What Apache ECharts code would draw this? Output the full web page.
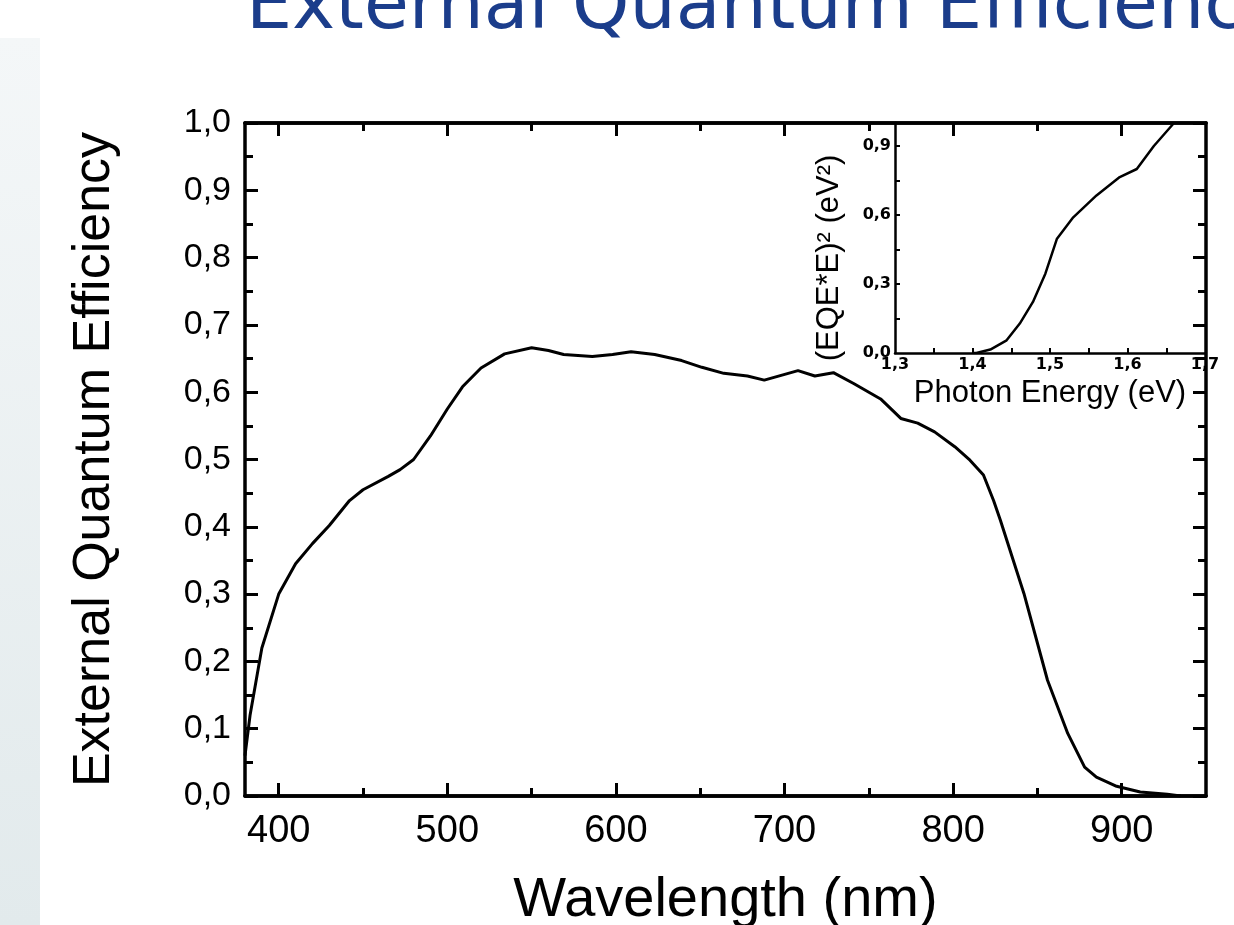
<!DOCTYPE html>
<html>
<head>
<meta charset="utf-8">
<style>
  html, body { margin: 0; padding: 0; background: #ffffff; }
  #chart { width: 1234px; height: 925px; }
</style>
<script src="https://cdn.jsdelivr.net/npm/echarts@6/dist/echarts.min.js"></script>
</head>
<body>
<div id="chart"></div>
<script>
// EQE spectrum of the cell
const wavelength = [380, 383, 390, 400, 410, 420, 430, 442, 450, 465, 472, 480, 490, 500, 509, 520, 534, 550, 560, 569, 586, 598, 609, 623, 639, 651, 664, 678, 688, 698, 708, 718, 729, 741, 757, 769, 779, 789, 801, 810, 818, 824, 828, 842, 856, 868, 878, 885, 897, 911, 927, 935];
const eqe = [0.06, 0.12, 0.22, 0.30, 0.345, 0.375, 0.402, 0.439, 0.455, 0.475, 0.485, 0.50, 0.535, 0.575, 0.608, 0.636, 0.657, 0.666, 0.662, 0.656, 0.653, 0.656, 0.660, 0.656, 0.647, 0.637, 0.628, 0.624, 0.618, 0.625, 0.632, 0.624, 0.629, 0.613, 0.590, 0.561, 0.554, 0.541, 0.519, 0.499, 0.477, 0.439, 0.410, 0.301, 0.172, 0.093, 0.043, 0.028, 0.0144, 0.006, 0.0025, 0.0];

// band-gap plot (inset)
const photonEnergy = [1.40, 1.405, 1.423, 1.444, 1.461, 1.478, 1.494, 1.509, 1.530, 1.560, 1.590, 1.612, 1.634, 1.660];
const eqeESq = [0.0, 0.0, 0.015, 0.055, 0.128, 0.222, 0.345, 0.497, 0.590, 0.685, 0.765, 0.800, 0.900, 1.000];

// tick positions
const wlMajorTicks = [400, 500, 600, 700, 800, 900];
const wlMinorTicks = [450, 550, 650, 750, 850];
const energyLabels = [1.3, 1.4, 1.5, 1.6, 1.7];
const energyTicks = [1.35, 1.4, 1.45, 1.5, 1.55, 1.6, 1.65];
const insetYLabels = [0, 0.3, 0.6, 0.9];
const insetYTicks = [0.15, 0.3, 0.45, 0.6, 0.75, 0.9];

const titleText = 'External Quantum Efficiency';
const yName = 'External Quantum Efficiency';
const xName = 'Wavelength (nm)';
const insetXName = 'Photon Energy (eV)';
const insetYName = '(EQE*E)\u00B2 (eV\u00B2)';

const comma = v => v.toFixed(1).replace('.', ',');
const FONT = 'Liberation Sans, Arial, sans-serif';
const BLACK = '#000000';

const mainAxisLine = { show: true, lineStyle: { color: BLACK, width: 3.5 } };
const insetAxisLine = { show: true, lineStyle: { color: BLACK, width: 2.5 } };

function wlAxis(position, ticks, len, extra) {
  return Object.assign({
    type: 'value', gridIndex: 0, position: position,
    min: 380, max: 950,
    axisLine: mainAxisLine,
    axisTick: { show: true, inside: true, length: len, customValues: ticks, lineStyle: { color: BLACK, width: 3 } },
    axisLabel: { show: false },
    splitLine: { show: false }
  }, extra || {});
}

const chart = echarts.init(document.getElementById('chart'), null, { renderer: 'canvas' });

chart.setOption({
  backgroundColor: '#ffffff',
  animation: false,
  graphic: [
    {
      type: 'rect', z: -10, silent: true,
      shape: { x: 0, y: 38, width: 40, height: 887 },
      style: {
        fill: new echarts.graphic.LinearGradient(0, 0, 0, 1, [
          { offset: 0, color: '#f4f7f8' },
          { offset: 1, color: '#e2eaec' }
        ])
      }
    },
    {
      type: 'text', z: 10, silent: true,
      style: {
        text: titleText, x: 246, y: 46,
        fill: '#1b3d8b', font: '73px "DejaVu Sans", Verdana, sans-serif',
        verticalAlign: 'bottom'
      }
    }
  ],
  grid: [
    { left: 245, top: 123, right: 28, bottom: 129, containLabel: false, outerBoundsMode: 'none' },
    { left: 895, top: 123, right: 29, bottom: 572, containLabel: false, outerBoundsMode: 'none', z: 5 }
  ],
  xAxis: [
    wlAxis('bottom', wlMajorTicks, 13, {
      axisLabel: {
        show: true, customValues: wlMajorTicks, margin: 17,
        color: BLACK, fontFamily: FONT, fontSize: 38
      },
      name: xName, nameLocation: 'middle', nameGap: 77,
      nameTextStyle: { color: BLACK, fontFamily: FONT, fontSize: 56 }
    }),
    wlAxis('bottom', wlMinorTicks, 8),
    wlAxis('top', wlMajorTicks, 13),
    wlAxis('top', wlMinorTicks, 8),
    {
      type: 'value', gridIndex: 1, position: 'bottom',
      min: 1.3, max: 1.7,
      axisLine: insetAxisLine,
      axisTick: { show: true, inside: true, length: 5, customValues: energyTicks, lineStyle: { color: BLACK, width: 2 } },
      axisLabel: {
        show: true, customValues: energyLabels, margin: 4, formatter: comma,
        color: BLACK, fontFamily: 'DejaVu Sans, sans-serif', fontWeight: 'bold', fontSize: 16
      },
      splitLine: { show: false },
      name: insetXName, nameLocation: 'middle', nameGap: 25,
      nameTextStyle: { color: BLACK, fontFamily: FONT, fontSize: 31 }
    }
  ],
  yAxis: [
    {
      type: 'value', gridIndex: 0, position: 'left',
      min: 0, max: 1, interval: 0.1,
      axisLine: mainAxisLine,
      axisTick: { show: true, inside: true, length: 13, lineStyle: { color: BLACK, width: 3 } },
      minorTick: { show: true, splitNumber: 2, length: 8, lineStyle: { color: BLACK, width: 3 } },
      axisLabel: { show: true, margin: 14, formatter: comma, color: BLACK, fontFamily: FONT, fontSize: 34 },
      splitLine: { show: false }, minorSplitLine: { show: false },
      name: yName, nameLocation: 'middle', nameGap: 124,
      nameTextStyle: { color: BLACK, fontFamily: FONT, fontSize: 52 }
    },
    {
      type: 'value', gridIndex: 0, position: 'right',
      min: 0, max: 1, interval: 0.1,
      axisLine: mainAxisLine,
      axisTick: { show: true, inside: true, length: 13, lineStyle: { color: BLACK, width: 3 } },
      minorTick: { show: true, splitNumber: 2, length: 8, lineStyle: { color: BLACK, width: 3 } },
      axisLabel: { show: false },
      splitLine: { show: false }, minorSplitLine: { show: false }
    },
    {
      type: 'value', gridIndex: 1, position: 'left',
      min: 0, max: 1,
      axisLine: insetAxisLine,
      axisTick: { show: true, inside: true, length: 5, customValues: insetYTicks, lineStyle: { color: BLACK, width: 2 } },
      axisLabel: {
        show: true, customValues: insetYLabels, margin: 4, formatter: comma,
        color: BLACK, fontFamily: 'DejaVu Sans, sans-serif', fontWeight: 'bold', fontSize: 16
      },
      splitLine: { show: false },
      name: insetYName, nameLocation: 'middle', nameGap: 50,
      nameTextStyle: { color: BLACK, fontFamily: FONT, fontSize: 31, padding: [0, 40, 0, 0] }
    }
  ],
  series: [
    {
      type: 'line', xAxisIndex: 0, yAxisIndex: 0,
      data: wavelength.map((w, i) => [w, eqe[i]]),
      showSymbol: false, smooth: false,
      lineStyle: { color: BLACK, width: 3 }
    },
    {
      type: 'line', xAxisIndex: 4, yAxisIndex: 2,
      data: photonEnergy.map((e, i) => [e, eqeESq[i]]),
      showSymbol: false, smooth: false,
      lineStyle: { color: BLACK, width: 2.5 }
    }
  ]
});
</script>
</body>
</html>
